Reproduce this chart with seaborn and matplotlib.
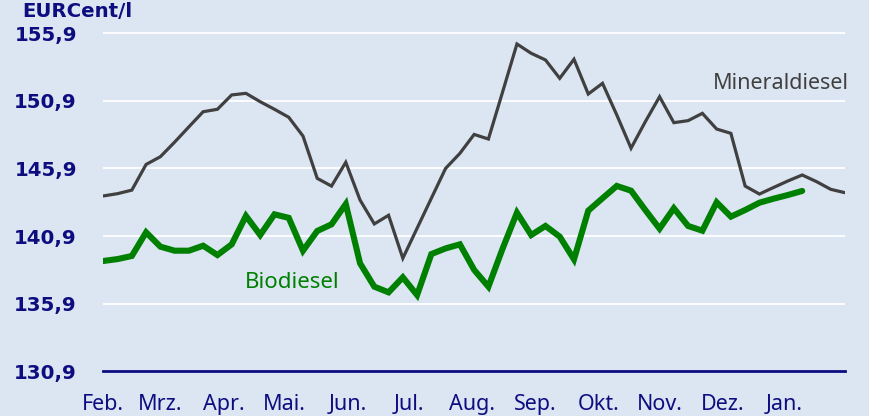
import matplotlib
matplotlib.use("Agg")
import matplotlib.pyplot as plt
import numpy as np
import pandas as pd
import seaborn as sns

# ---------------- data ----------------
month_labels = ["Feb.", "Mrz.", "Apr.", "Mai.", "Jun.", "Jul.", "Aug.", "Sep.",
                "Okt.", "Nov.", "Dez.", "Jan."]
month_start_day = [0, 28, 59, 89, 120, 150, 181, 212, 243, 273, 304, 334]

ytick_values = [130.9, 135.9, 140.9, 145.9, 150.9, 155.9]
ytick_labels = ["130,9", "135,9", "140,9", "145,9", "150,9", "155,9"]

mineraldiesel = [143.87, 144.04, 144.30, 146.20, 146.77, 147.85, 148.98, 150.10,
                 150.28, 151.34, 151.46, 150.84, 150.28, 149.69, 148.30, 145.17,
                 144.60, 146.36, 143.57, 141.80, 142.44, 139.26, 141.48, 143.70,
                 145.91, 147.02, 148.42, 148.08, 151.58, 155.11, 154.42, 153.93,
                 152.57, 153.98, 151.41, 152.20, 149.86, 147.40, 149.36, 151.21,
                 149.29, 149.44, 149.98, 148.82, 148.50, 144.60, 144.01, 144.50,
                 144.98, 145.42, 144.93, 144.36, 144.11]

biodiesel = [139.06, 139.20, 139.43, 141.18, 140.12, 139.82, 139.82, 140.19,
             139.50, 140.29, 142.39, 140.98, 142.51, 142.25, 139.82, 141.28,
             141.77, 143.27, 138.89, 137.16, 136.74, 137.85, 136.54, 139.57,
             139.99, 140.29, 138.40, 137.16, 139.99, 142.63, 140.98, 141.65,
             140.86, 139.18, 142.78, 143.70, 144.61, 144.26, 142.83, 141.45,
             142.96, 141.65, 141.30, 143.40, 142.34, 142.83, 143.37, 143.67,
             143.94, 144.24]

days_per_week = 7
mineral_days = [i * days_per_week for i in range(len(mineraldiesel))]
bio_days = [i * days_per_week for i in range(len(biodiesel))]

df_min = pd.DataFrame({"day": mineral_days, "price": mineraldiesel})
df_bio = pd.DataFrame({"day": bio_days, "price": biodiesel})

# ---------------- style ----------------
bg = "#dce6f2"
navy = "#0d0d80"
gray = "#404040"
green = "#008000"

sns.set_theme(style="white")
plt.rcParams["font.family"] = ["Noto Sans", "DejaVu Sans"]

W, H = 870, 416
fig = plt.figure(figsize=(W / 100, H / 100), dpi=100, facecolor=bg)

left_px, right_px = 103.3, 845.0
bottom_px = 371.3
top_val = 157.5
px_per_unit = 13.52
top_px = 33.3 - (top_val - 155.9) * px_per_unit
ax = fig.add_axes([left_px / W, 1 - bottom_px / H,
                   (right_px - left_px) / W, (bottom_px - top_px) / H])
ax.set_facecolor(bg)

sns.lineplot(data=df_min, x="day", y="price", ax=ax, color=gray, linewidth=2.3,
             solid_joinstyle="miter", zorder=3)
sns.lineplot(data=df_bio, x="day", y="price", ax=ax, color=green, linewidth=4.4,
             solid_joinstyle="miter", zorder=4)

x_end = (len(mineraldiesel) - 1) * days_per_week
ax.set_xlim(0, x_end)
ax.set_ylim(130.9, top_val)

for v in ytick_values[1:]:
    ax.axhline(v, color="white", linewidth=1.3, zorder=1)

ax.set_xticks(month_start_day)
ax.set_xticklabels(month_labels)
ax.set_yticks(ytick_values)
ax.set_yticklabels(ytick_labels)

for s in ["top", "right", "left"]:
    ax.spines[s].set_visible(False)
ax.spines["bottom"].set_color(navy)
ax.spines["bottom"].set_linewidth(2.0)
ax.spines["bottom"].set_zorder(5)

ax.tick_params(axis="x", direction="out", length=5, width=1.5, color=navy,
               labelcolor=navy, labelsize=15.5, pad=11)
ax.tick_params(axis="y", length=0, labelcolor=navy, pad=19)
for lab in ax.get_yticklabels():
    lab.set_fontfamily("DejaVu Sans")
    lab.set_fontweight("bold")
    lab.set_fontsize(14.2)

ax.set_xlabel("")
ax.set_ylabel("")

ax.text(366, 151.75, "Mineraldiesel", color=gray, fontsize=15.5,
        ha="right", va="baseline", clip_on=False)
ax.text(69.6, 137.06, "Biodiesel", color=green, fontsize=16,
        ha="left", va="baseline")

fig.text(22 / W, 1 - 16.7 / H, "EURCent/l", color=navy, fontsize=14.2,
         fontfamily="DejaVu Sans", fontweight="bold", ha="left", va="baseline")

fig.savefig("out.png", dpi=100, facecolor=bg)
